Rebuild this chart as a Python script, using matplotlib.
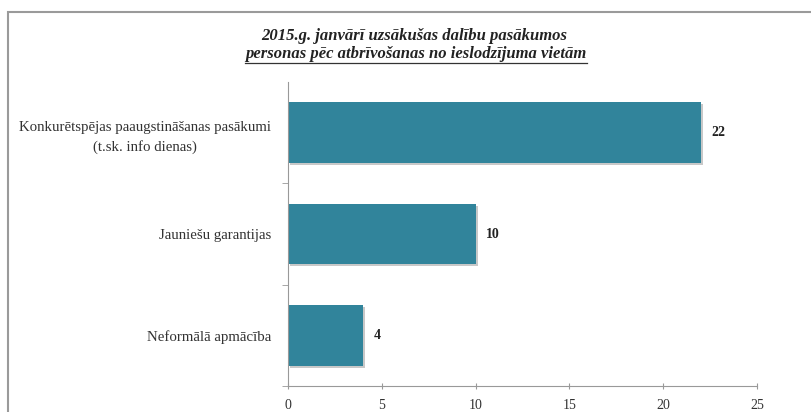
import matplotlib.pyplot as plt
from matplotlib.patches import Rectangle
from matplotlib.lines import Line2D

# Data (bottom to top, as drawn)
categories = ['Neformālā apmācība',
              'Jauniešu garantijas',
              'Konkurētspējas paaugstināšanas pasākumi\n(t.sk. info dienas)']
values = [4, 10, 22]
x_ticks = [0, 5, 10, 15, 20, 25]

title_line1 = '2015.g. janvārī uzsākušas dalību pasākumos'
title_line2 = 'personas pēc atbrīvošanas no ieslodzījuma vietām'

bar_color = '#31849B'
serif = ['Liberation Serif', 'DejaVu Serif']

fig = plt.figure(figsize=(8.11, 4.12), dpi=100)

# outer chart frame (cut off at right and bottom like the reference)
frame = Rectangle((8 / 811, -0.2), 1.2, 1.2 - 12 / 412,
                  transform=fig.transFigure, fill=False,
                  edgecolor='#9a9a9a', linewidth=1.5, clip_on=False)
fig.patches.append(frame)

ax = fig.add_axes([288 / 811, 1 - 386 / 412, (757 - 288) / 811, (386 - 82) / 412])

ypos = list(range(len(categories)))
# faint shadow behind each bar
ax.barh([y - 0.02 for y in ypos], values, height=0.6, left=0.12,
        color='#c8c8c8', zorder=1)
ax.barh(ypos, values, height=0.6, color=bar_color, zorder=2)

for y, v in zip(ypos, values):
    ax.text(v + 0.55, y, str(v), va='center', ha='left',
            fontsize=10, fontweight='bold', family=serif, color='#222222')

ax.set_xlim(0, 25)
ax.set_ylim(-0.5, len(categories) - 0.5)
ax.set_xticks(x_ticks)
ax.set_xticklabels([str(t) for t in x_ticks], family=serif, fontsize=10, color='#333333')
ax.set_yticks(ypos)
ax.set_yticklabels(categories, family=serif, fontsize=10.7, color='#333333',
                   ha='right', multialignment='center', linespacing=1.6)
# tick marks sit between categories
ax.set_yticks([y + 0.5 for y in ypos[:-1]] + [-0.5], minor=True)
ax.tick_params(axis='y', which='major', length=0, pad=12)
ax.tick_params(axis='y', which='minor', length=4, color='#999999', direction='out')
ax.tick_params(axis='x', length=5, color='#999999', direction='inout', pad=7)

for side in ['top', 'right']:
    ax.spines[side].set_visible(False)
for side in ['left', 'bottom']:
    ax.spines[side].set_color('#999999')
    ax.spines[side].set_linewidth(0.8)

# title, second line underlined
fig.text(414 / 811, 1 - 36 / 412, title_line1, ha='center', va='center',
         fontsize=12, fontweight='bold', fontstyle='italic', family=serif, color='#222222')
fig.text(416 / 811, 1 - 54 / 412, title_line2, ha='center', va='center',
         fontsize=12, fontweight='bold', fontstyle='italic', family=serif, color='#222222')
fig.add_artist(Line2D([245 / 811, 587 / 811], [1 - 63 / 412, 1 - 63 / 412],
                      transform=fig.transFigure, color='#333333', linewidth=0.9))

fig.savefig('out.png', dpi=100)
